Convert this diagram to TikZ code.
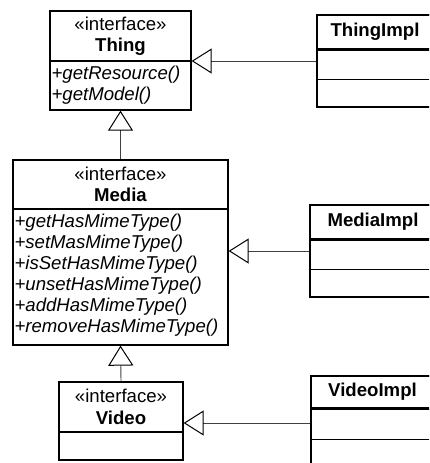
\documentclass[tikz,border=0pt]{standalone}
\usepackage{fontspec}
\setmainfont{Liberation Sans}
\usetikzlibrary{positioning,arrows.meta}

\begin{document}
\begin{tikzpicture}[x=1pt,y=-1pt,
    every node/.style={font=\fontsize{18.6}{21.5}\selectfont},
    box/.style={draw, line width=1.3pt, inner sep=0pt},
    ops/.style={anchor=north west, align=left, inner xsep=2pt, inner ysep=4pt, font=\fontsize{18.6}{21}\selectfont\itshape},
    realize/.style={draw=black!75, line width=0.9pt, -{Triangle[open, length=20pt, width=25pt, line width=1pt, color=black]}}]
  \clip (0,0) rectangle (429,463);
  % interfaces
  \node[box, minimum width=141pt, minimum height=99pt] (thing) at (120.5,60.5) {};
  \node[box, minimum width=141pt, minimum height=50pt, below=0pt of thing.north, align=center] (thingname) {«interface»\\\textbf{Thing}};
  \node[ops] (thingops) at (thingname.south west) {+getResource()\\+getModel()};

  \node[box, minimum width=215pt, minimum height=185pt] (media) at (120.5,252.5) {};
  \node[box, minimum width=215pt, minimum height=49pt, below=0pt of media.north, align=center] (medianame) {«interface»\\\textbf{Media}};
  \node[ops] (mediaops) at (medianame.south west) {+getHasMimeType()\\+setMasMimeType()\\+isSetHasMimeType()\\+unsetHasMimeType()\\+addHasMimeType()\\+removeHasMimeType()};

  \node[box, minimum width=124pt, minimum height=78pt] (video) at (121,421) {};
  \node[box, minimum width=124pt, minimum height=50pt, below=0pt of video.north, align=center] (videoname) {«interface»\\\textbf{Video}};

  % implementations
  \node[box, minimum width=116pt, minimum height=92pt] (thingimpl) at (375,61) {};
  \node[box, minimum width=116pt, minimum height=34pt, below=0pt of thingimpl.north] (thingimplname) {\textbf{ThingImpl}};
  \node[box, minimum width=116pt, minimum height=29pt, below=0pt of thingimplname.south] (thingimplattr) {};

  \node[box, minimum width=126pt, minimum height=92pt] (mediaimpl) at (373,251) {};
  \node[box, minimum width=126pt, minimum height=34pt, below=0pt of mediaimpl.north] (mediaimplname) {\textbf{MediaImpl}};
  \node[box, minimum width=126pt, minimum height=29pt, below=0pt of mediaimplname.south] (mediaimplattr) {};

  \node[box, minimum width=123pt, minimum height=94pt] (videoimpl) at (372.5,423) {};
  \node[box, minimum width=123pt, minimum height=32pt, below=0pt of videoimpl.north] (videoimplname) {\textbf{VideoImpl}};
  \node[box, minimum width=123pt, minimum height=30pt, below=0pt of videoimplname.south] (videoimplattr) {};

  % generalisation and realisation
  \draw[realize] (media.north) -- (thing.south);
  \draw[realize] (video.north) -- (media.south);
  \draw[realize] (thingimpl.west) -- (thingimpl.west -| thing.east);
  \draw[realize] (mediaimpl.west) -- (mediaimpl.west -| media.east);
  \draw[realize] (videoimpl.west) -- (videoimpl.west -| video.east);
\end{tikzpicture}
\end{document}
